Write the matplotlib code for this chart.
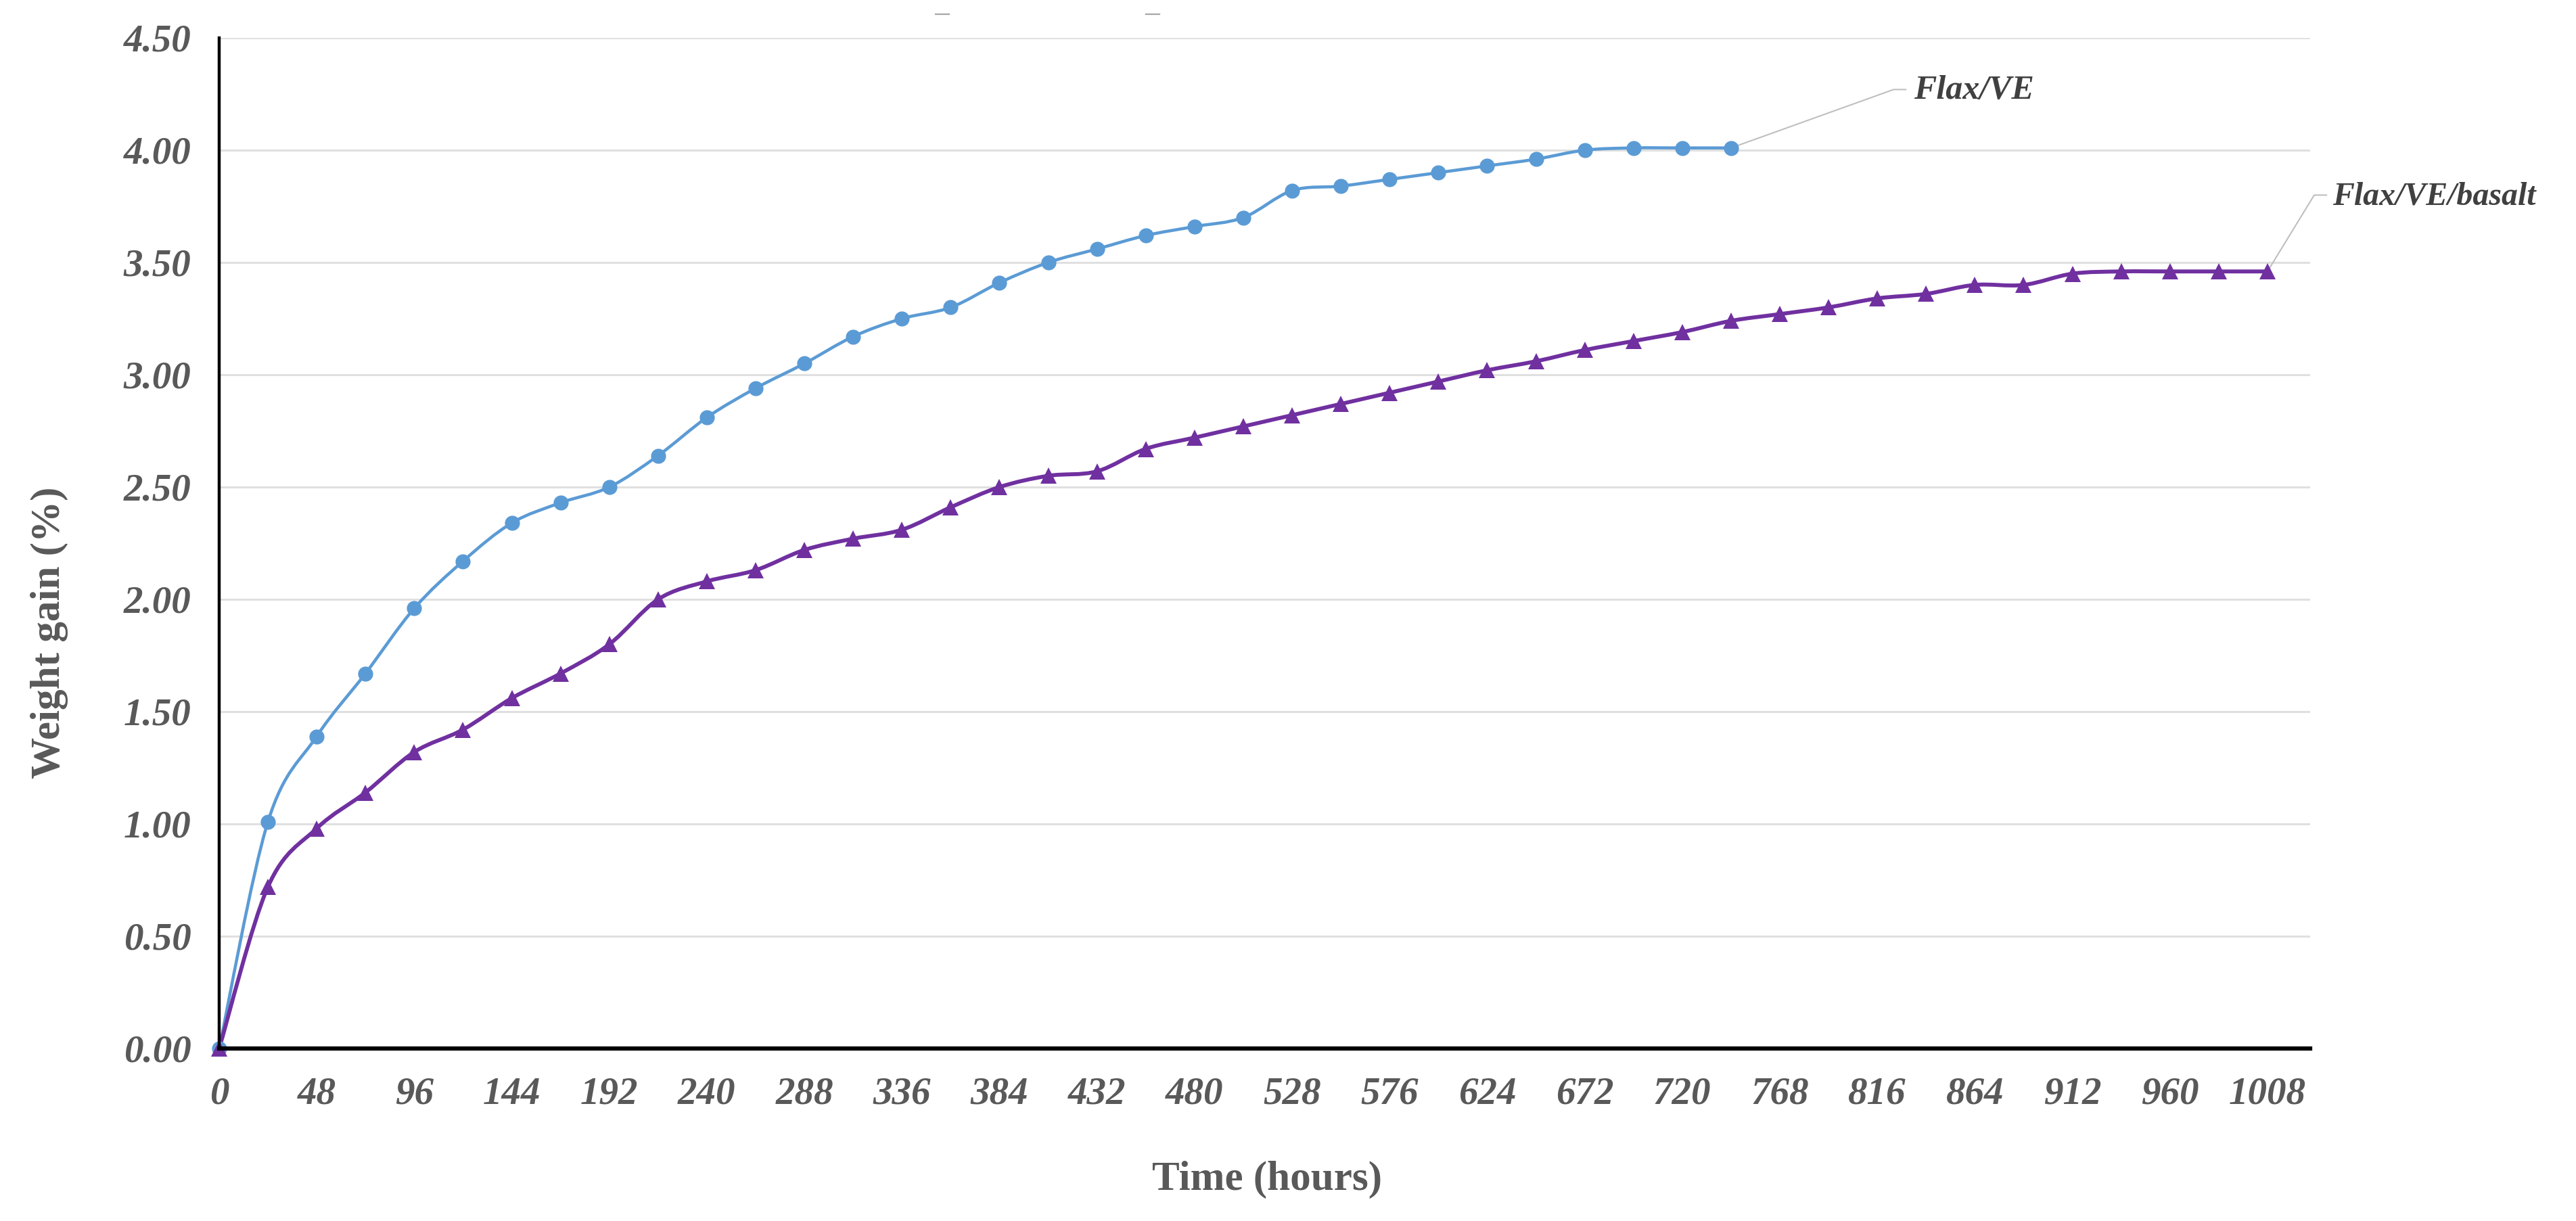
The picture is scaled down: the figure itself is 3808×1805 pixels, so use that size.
import numpy as np
import matplotlib.pyplot as plt
from matplotlib.path import Path
from matplotlib.patches import PathPatch
from matplotlib.lines import Line2D

# time axis (hours), one reading every 24 h
hours = list(range(0, 1009, 24))

# weight gain (%)
flax_ve = [0.00, 1.01, 1.39, 1.67, 1.96, 2.17, 2.34, 2.43, 2.50, 2.64, 2.81,
           2.94, 3.05, 3.17, 3.25, 3.30, 3.41, 3.50, 3.56, 3.62, 3.66, 3.70,
           3.82, 3.84, 3.87, 3.90, 3.93, 3.96, 4.00, 4.01, 4.01, 4.01]
flax_ve_basalt = [0.00, 0.72, 0.98, 1.14, 1.32, 1.42, 1.56, 1.67, 1.80, 2.00,
                  2.08, 2.13, 2.22, 2.27, 2.31, 2.41, 2.50, 2.55, 2.57, 2.67,
                  2.72, 2.77, 2.82, 2.87, 2.92, 2.97, 3.02, 3.06, 3.11, 3.15,
                  3.19, 3.24, 3.27, 3.30, 3.34, 3.36, 3.40, 3.40, 3.45, 3.46,
                  3.46, 3.46, 3.46]

x_ticks = list(range(0, 1009, 48))
y_ticks = [0.0, 0.5, 1.0, 1.5, 2.0, 2.5, 3.0, 3.5, 4.0, 4.5]

BLUE = '#5B9BD5'
PURPLE = '#7030A0'
GREY_TXT = '#595959'
SERIF = 'Liberation Serif'


def smooth_path(x, y):
    # Excel-like smoothed line: cubic bezier through the points (catmull-rom control points)
    pts = np.column_stack([x, y]).astype(float)
    n = len(pts)
    verts = [pts[0]]
    codes = [Path.MOVETO]
    for i in range(n - 1):
        p0 = pts[max(i - 1, 0)]
        p1 = pts[i]
        p2 = pts[i + 1]
        p3 = pts[min(i + 2, n - 1)]
        verts += [p1 + (p2 - p0) / 6.0, p2 - (p3 - p1) / 6.0, p2]
        codes += [Path.CURVE4] * 3
    return Path(verts, codes)


fig = plt.figure(figsize=(38.08, 18.05), dpi=100)
ax = fig.add_axes([324 / 3808, 1 - 1550 / 1805, (3415 - 324) / 3808, (1550 - 56) / 1805])

ax.set_xlim(0, 1029)
ax.set_ylim(0, 4.5)
ax.set_yticks(y_ticks)
ax.set_xticks(x_ticks)
ax.yaxis.grid(True, color='#e0e0e0', lw=2.2)
ax.set_axisbelow(True)

for s in ['top', 'right']:
    ax.spines[s].set_visible(False)
ax.spines['left'].set_linewidth(3.2)
ax.spines['bottom'].set_linewidth(4.5)
ax.spines['left'].set_color('black')
ax.spines['bottom'].set_color('black')
ax.spines['left'].set_zorder(5)
ax.spines['bottom'].set_zorder(5)

ax.tick_params(length=0, pad=30, labelcolor=GREY_TXT)
ax.set_yticklabels([f'{v:.2f}' for v in y_ticks])
ax.set_xticklabels([str(v) for v in x_ticks])
for lab in ax.get_xticklabels() + ax.get_yticklabels():
    lab.set_fontfamily(SERIF)
    lab.set_fontstyle('italic')
    lab.set_fontweight('bold')
    lab.set_fontsize(41)

# series
ve_hours = hours[:len(flax_ve)]
ax.add_patch(PathPatch(smooth_path(ve_hours, flax_ve), fill=False, edgecolor=BLUE,
                       lw=3.3, clip_on=False, zorder=3))
ax.plot(ve_hours, flax_ve, 'o', color=BLUE, ms=16, mew=0, clip_on=False, zorder=4)

ax.add_patch(PathPatch(smooth_path(hours, flax_ve_basalt), fill=False, edgecolor=PURPLE,
                       lw=4.2, clip_on=False, zorder=3))
ax.plot(hours, flax_ve_basalt, '^', color=PURPLE, ms=17, mew=0, clip_on=False, zorder=4)

# series labels with leader lines
lab_font = dict(family=SERIF, style='italic', weight='bold', size=36, color='#404040')
ax.plot([ve_hours[-1], 824, 830], [flax_ve[-1], 4.27, 4.27], color='#bfbfbf', lw=1.5,
        clip_on=False, zorder=2)
ax.text(834, 4.265, 'Flax/VE', ha='left', va='center', **lab_font)
ax.plot([hours[-1], 1031, 1037], [flax_ve_basalt[-1], 3.80, 3.80], color='#bfbfbf', lw=1.5,
        clip_on=False, zorder=2)
ax.text(1040, 3.795, 'Flax/VE/basalt', ha='left', va='center', clip_on=False,
        **dict(lab_font, size=34.5))

# axis titles
ax.set_ylabel('Weight gain (%)', family=SERIF, weight='bold', size=44, color=GREY_TXT)
ax.yaxis.set_label_coords(-0.0812, 0.4116)
ax.set_xlabel('Time (hours)', family=SERIF, weight='bold', size=44, color=GREY_TXT)
ax.xaxis.set_label_coords(0.501, -0.130)
ax.xaxis.label.set_va('center')
ax.yaxis.label.set_va('center')

# leftover dashes of a cropped title at the top
for x0, x1 in [(1383, 1403), (1694, 1714)]:
    fig.add_artist(Line2D([x0 / 3808, x1 / 3808], [1 - 21 / 1805] * 2, color='#a6a6a6', lw=1.6))

fig.savefig('out.png', dpi=100, facecolor='white')
